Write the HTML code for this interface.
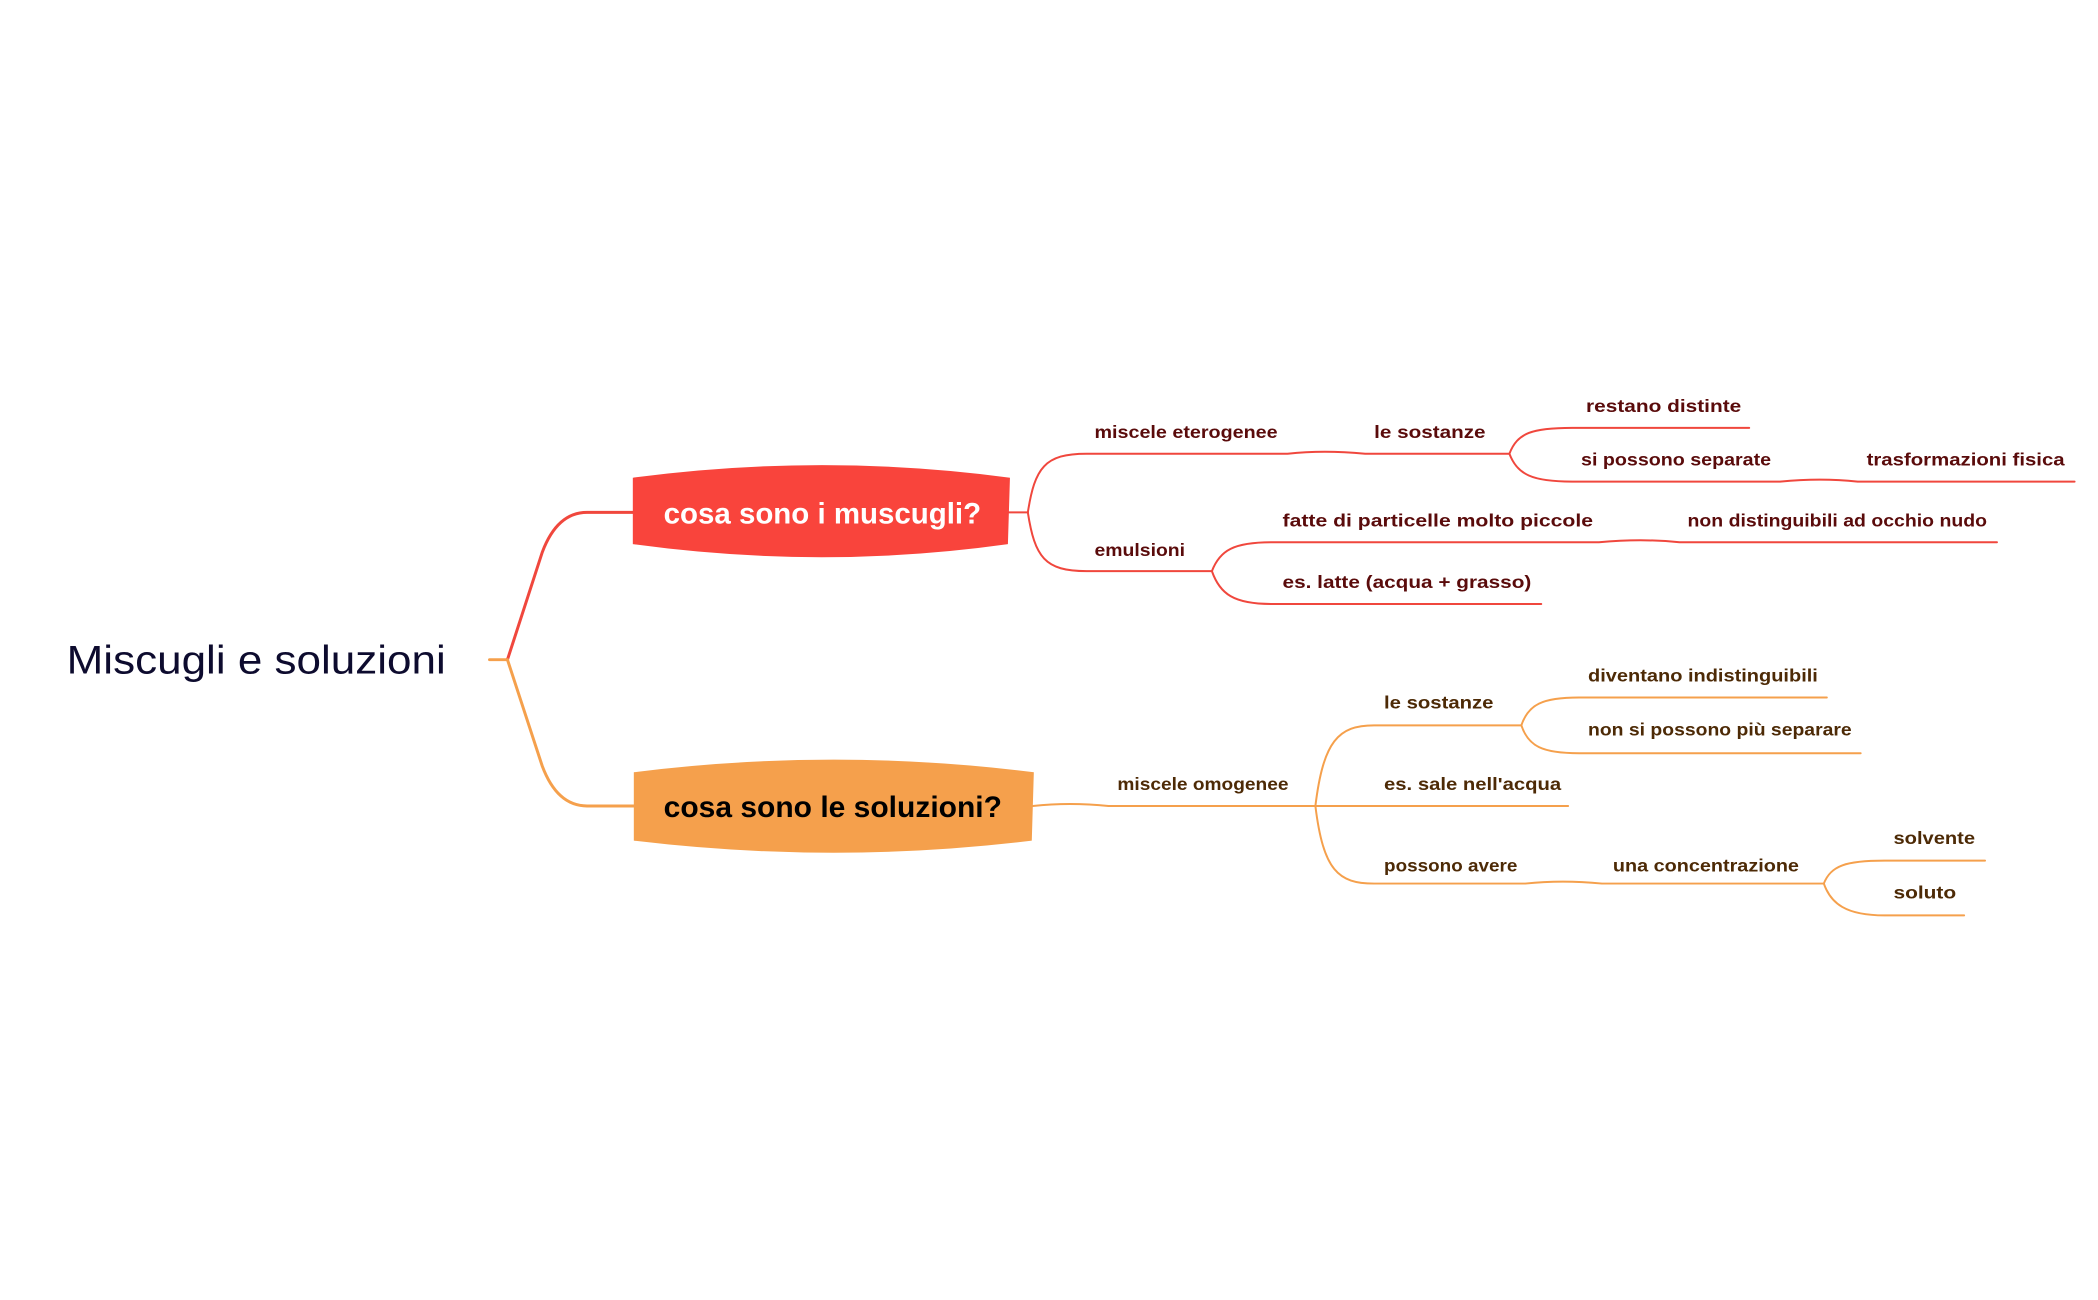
<!DOCTYPE html>
<html><head><meta charset="utf-8"><style>
html,body{margin:0;padding:0;background:#fff;}
svg{display:block;}
.s{font-family:"Liberation Sans",sans-serif;font-weight:bold;font-size:18px;}
.r{fill:#5a0b0b;}
.o{fill:#4d2a06;}
</style></head><body>
<svg width="2098" height="1300" viewBox="0 0 2098 1300" xmlns="http://www.w3.org/2000/svg">
<g transform="scale(0.995)">
<g fill="none" stroke-linecap="round">
<path d="M492 663 H510" stroke="#f5a04c" stroke-width="3"/>
<path d="M510 663 L545 555 Q560 515 590 515 H639" stroke="#f0473d" stroke-width="3"/>
<path d="M510 663 L545 770 Q560 810 590 810 H639" stroke="#f5a04c" stroke-width="3"/>

<g stroke="#f0473d" stroke-width="2">
<path d="M1014 515 H1033"/>
<path d="M1033 515 C1040 470 1050 456 1092 456 H1294 Q1330 452 1372 456 H1500 H1517"/>
<path d="M1033 515 C1040 560 1050 574 1092 574 H1204 H1218"/>
<path d="M1517 456 C1525 435 1540 430 1580 430 H1758"/>
<path d="M1517 456 C1525 477 1540 484 1580 484 H1789 Q1830 480 1867 484 H2085"/>
<path d="M1218 574 C1226 553 1240 545 1278 545 H1607 Q1650 541 1688 545 H2007"/>
<path d="M1218 574 C1226 597 1240 607 1278 607 H1549"/>
</g>
<g stroke="#f5a04c" stroke-width="2">
<path d="M1038 810 Q1075 806 1114 810 H1318 H1322"/>
<path d="M1322 810 C1330 745 1345 729 1381 729 H1520 H1529"/>
<path d="M1322 810 H1381 H1576"/>
<path d="M1322 810 C1330 875 1345 888 1381 888 H1533 Q1570 884 1610 888 H1816 H1833"/>
<path d="M1529 729 C1536 708 1550 701 1587 701 H1836"/>
<path d="M1529 729 C1536 750 1550 757 1587 757 H1870"/>
<path d="M1833 888 C1840 870 1855 865 1894 865 H1995"/>
<path d="M1833 888 C1840 908 1855 920 1894 920 H1974"/>
</g>
</g>

<path d="M637 481 Q827 456 1014 481 L1012 546 Q827 572 637 546 Z" fill="#f9443c" stroke="#f9443c" stroke-width="2"/>
<path d="M638 777 Q838 752 1038 777 L1036 844 Q838 868 638 844 Z" fill="#f5a04c" stroke="#f5a04c" stroke-width="2"/>

<text x="67" y="677" font-family="Liberation Sans, sans-serif" font-size="40" fill="#0d0b2e" textLength="381" lengthAdjust="spacingAndGlyphs">Miscugli e soluzioni</text>
<text x="667" y="526" class="s" style="font-size:30px" fill="#fff" textLength="319" lengthAdjust="spacingAndGlyphs">cosa sono i muscugli?</text>
<text x="667" y="821" class="s" style="font-size:30px" fill="#000" textLength="340" lengthAdjust="spacingAndGlyphs">cosa sono le soluzioni?</text>

<g class="s">
<text class="r" x="1100" y="440" textLength="184" lengthAdjust="spacingAndGlyphs">miscele eterogenee</text>
<text class="r" x="1381" y="440" textLength="112" lengthAdjust="spacingAndGlyphs">le sostanze</text>
<text class="r" x="1594" y="414" textLength="156" lengthAdjust="spacingAndGlyphs">restano distinte</text>
<text class="r" x="1589" y="468" textLength="191" lengthAdjust="spacingAndGlyphs">si possono separate</text>
<text class="r" x="1876" y="468" textLength="199" lengthAdjust="spacingAndGlyphs">trasformazioni fisica</text>
<text class="r" x="1100" y="559" textLength="91" lengthAdjust="spacingAndGlyphs">emulsioni</text>
<text class="r" x="1289" y="529" textLength="312" lengthAdjust="spacingAndGlyphs">fatte di particelle molto piccole</text>
<text class="r" x="1696" y="529" textLength="301" lengthAdjust="spacingAndGlyphs">non distinguibili ad occhio nudo</text>
<text class="r" x="1289" y="591" textLength="250" lengthAdjust="spacingAndGlyphs">es. latte (acqua + grasso)</text>

<text class="o" x="1123" y="794" textLength="172" lengthAdjust="spacingAndGlyphs">miscele omogenee</text>
<text class="o" x="1391" y="712" textLength="110" lengthAdjust="spacingAndGlyphs">le sostanze</text>
<text class="o" x="1596" y="685" textLength="231" lengthAdjust="spacingAndGlyphs">diventano indistinguibili</text>
<text class="o" x="1596" y="739" textLength="265" lengthAdjust="spacingAndGlyphs">non si possono più separare</text>
<text class="o" x="1391" y="794" textLength="178" lengthAdjust="spacingAndGlyphs">es. sale nell'acqua</text>
<text class="o" x="1391" y="876" textLength="134" lengthAdjust="spacingAndGlyphs">possono avere</text>
<text class="o" x="1621" y="876" textLength="187" lengthAdjust="spacingAndGlyphs">una concentrazione</text>
<text class="o" x="1903" y="848" textLength="82" lengthAdjust="spacingAndGlyphs">solvente</text>
<text class="o" x="1903" y="903" textLength="63" lengthAdjust="spacingAndGlyphs">soluto</text>
</g>
</g>
</svg>
</body></html>
